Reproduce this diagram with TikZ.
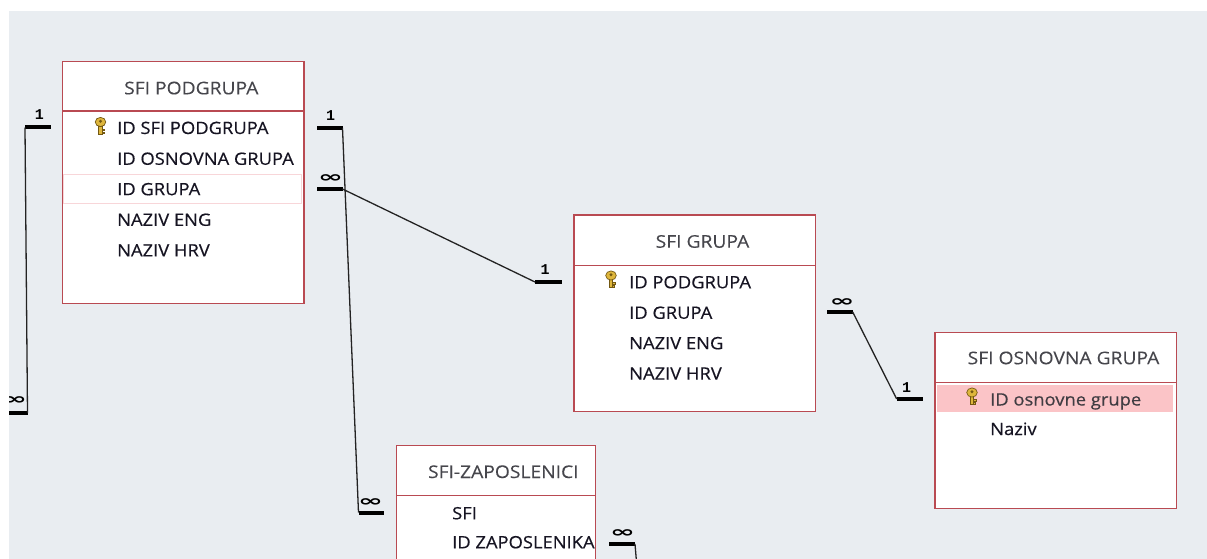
\documentclass[tikz,border=0pt]{standalone}
\usepackage{fontspec}
\setmainfont{Open Sans}
\newfontfamily\fldfont{Open Sans}[FakeStretch=1.08, FakeBold=0.4]
\newfontfamily\ttlfont{Open Sans}[FakeStretch=1.1, FakeBold=0.1]
\newfontfamily\relfont{DejaVu Sans}
\newfontfamily\onefont{Liberation Mono}
\usetikzlibrary{calc}
\definecolor{bggray}{RGB}{233,237,241}
\definecolor{tblborder}{RGB}{185,74,82}
\definecolor{pinkfill}{RGB}{251,196,199}
\definecolor{pinkline}{RGB}{248,214,217}
\definecolor{ttlgray}{RGB}{70,70,76}
\definecolor{fldtext}{RGB}{22,20,34}
\definecolor{pktext}{RGB}{64,60,66}
\definecolor{reldark}{RGB}{35,35,35}
\definecolor{keygold}{RGB}{222,182,60}
\definecolor{keydark}{RGB}{115,88,18}
\tikzset{
  tbl/.style={draw=tblborder, line width=1.3pt, fill=white, anchor=north west, inner sep=0pt, rectangle},
  sepline/.style={draw=tblborder, line width=1.3pt},
  ttl/.style={font=\ttlfont\fontsize{17.5}{20}\selectfont, text=ttlgray, anchor=base, inner sep=0pt},
  fld/.style={font=\fldfont\fontsize{17}{20}\selectfont, text=fldtext, anchor=base west, inner sep=0pt},
  relbar/.style={line width=4pt, black},
  relline/.style={line width=1.3pt, reldark},
  onelbl/.style={font=\onefont\bfseries\fontsize{15}{15}\selectfont, anchor=base, inner sep=0pt},
  manylbl/.style={font=\relfont\bfseries\fontsize{13}{13}\selectfont, anchor=south, inner sep=0pt},
  keyicon/.pic={
    \filldraw[fill=keygold, draw=keydark, line width=0.7pt] (4,9) rectangle (7.5,17);
    \filldraw[fill=keygold, draw=keydark, line width=0.7pt] (7.5,12) rectangle (10,13.6);
    \filldraw[fill=keygold, draw=keydark, line width=0.7pt] (7.5,15) rectangle (9.6,16.6);
    \filldraw[fill=keygold, draw=keydark, line width=0.7pt] (6,5) ellipse [x radius=5.3, y radius=4.6];
    \fill[keydark] (6,4.2) circle (1.6);
  }
}
\newcommand{\manysym}{\scalebox{2.3}[1.2]{∞}}
\begin{document}
\begin{tikzpicture}[x=1pt,y=-1pt]
\useasboundingbox (0,0) rectangle (1207,559);
\clip (0,0) rectangle (1207,559);
\fill[bggray] (0,0) rectangle (1207,559);

% ---------- connectors ----------
% left relationship
\coordinate (a1L) at (25,127.5);  \coordinate (a1R) at (50.5,127.5);
\coordinate (a2L) at (2,413);     \coordinate (a2R) at (27.5,413);
\draw[relbar] (a1L) -- (a1R);
\draw[relbar] (a2L) -- (a2R);
\draw[relline] (a1L) -- (a2R);
\node[onelbl] (a1lbl) at (39.5,120) {1};
\node[manylbl] (a2lbl) at (14.5,404.5) {\manysym};

% podgrupa 1 -> zaposlenici many
\coordinate (b1L) at (317,128);   \coordinate (b1R) at (342.5,128);
\coordinate (b2L) at (358.5,512.5); \coordinate (b2R) at (384,512.5);
\draw[relbar] (b1L) -- (b1R);
\draw[relbar] (b2L) -- (b2R);
\draw[relline] (b1R) -- (b2L);
\node[onelbl] (b1lbl) at (330.5,120.5) {1};
\node[manylbl] (b2lbl) at (370.5,506.5) {\manysym};

% podgrupa many -> grupa 1
\coordinate (c1L) at (317,189);   \coordinate (c1R) at (342.5,189);
\coordinate (c2L) at (535,282);   \coordinate (c2R) at (561.5,282);
\draw[relbar] (c1L) -- (c1R);
\draw[relbar] (c2L) -- (c2R);
\draw[relline] (c1R) -- (c2L);
\node[manylbl] (c1lbl) at (330.5,183) {\manysym};
\node[onelbl] (c2lbl) at (545,274.5) {1};

% grupa many -> osnovna 1
\coordinate (d1L) at (827,312);   \coordinate (d1R) at (852.7,312);
\coordinate (d2L) at (896.7,399); \coordinate (d2R) at (923.3,399);
\draw[relbar] (d1L) -- (d1R);
\draw[relbar] (d2L) -- (d2R);
\draw[relline] (d1R) -- (d2L);
\node[manylbl] (d1lbl) at (842,306.5) {\manysym};
\node[onelbl] (d2lbl) at (906.5,392.5) {1};

% zaposlenici many -> off picture
\coordinate (e1L) at (609.3,544); \coordinate (e1R) at (635,544);
\coordinate (e2) at (636.5,562);
\draw[relbar] (e1L) -- (e1R);
\draw[relline] (e1R) -- (e2);
\node[manylbl] (e1lbl) at (622.5,537.5) {\manysym};

% ---------- SFI PODGRUPA ----------
\node[tbl, minimum width=241.3pt, minimum height=241.7pt] (pod) at (62,61) {};
\draw[sepline] ($(pod.north west)+(0,50)$) -- ($(pod.north east)+(0,50)$);
\draw[pinkline, line width=1pt] (63.6,174.6) rectangle (301.6,203.4);
\node[ttl] (podT) at (191.3,94.3) {SFI PODGRUPA};
\pic at (94.5,117) {keyicon};
\node[fld] (pod1) at (117,134) {ID SFI PODGRUPA};
\node[fld] (pod2) at (117,164.8) {ID OSNOVNA GRUPA};
\node[fld] (pod3) at (117,195.2) {ID GRUPA};
\node[fld] (pod4) at (117,225.8) {NAZIV ENG};
\node[fld] (pod5) at (117,256.4) {NAZIV HRV};

% ---------- SFI GRUPA ----------
\node[tbl, minimum width=241.7pt, minimum height=196.7pt] (grp) at (573.3,214.3) {};
\draw[sepline] ($(grp.north west)+(0,51)$) -- ($(grp.north east)+(0,51)$);
\node[ttl] (grpT) at (702.5,247.7) {SFI GRUPA};
\pic at (605,270.5) {keyicon};
\node[fld] (grp1) at (629,288.3) {ID PODGRUPA};
\node[fld] (grp2) at (629,318.8) {ID GRUPA};
\node[fld] (grp3) at (629,349.2) {NAZIV ENG};
\node[fld] (grp4) at (629,379.6) {NAZIV HRV};

% ---------- SFI OSNOVNA GRUPA ----------
\node[tbl, minimum width=241.7pt, minimum height=176pt] (osn) at (934.3,331.5) {};
\draw[sepline] ($(osn.north west)+(0,51)$) -- ($(osn.north east)+(0,51)$);
\fill[pinkfill] (936.8,385.2) rectangle (1173.2,411.6);
\node[ttl] (osnT) at (1063.5,364.2) {SFI OSNOVNA GRUPA};
\pic at (966,387.5) {keyicon};
\node[fld, text=pktext] (osn1) at (990,405.5) {ID osnovne grupe};
\node[fld] (osn2) at (990,435) {Naziv};

% ---------- SFI-ZAPOSLENICI ----------
\node[tbl, minimum width=199pt, minimum height=150pt] (zap) at (396,445) {};
\draw[sepline] ($(zap.north west)+(0,50.7)$) -- ($(zap.north east)+(0,50.7)$);
\node[ttl] (zapT) at (503.3,478) {SFI-ZAPOSLENICI};
\node[fld] (zap1) at (452,519.3) {SFI};
\node[fld] (zap2) at (452,548.3) {ID ZAPOSLENIKA};

% ---------- white margin of the canvas ----------
\fill[white] (0,0) rectangle (1207,11);
\fill[white] (0,0) rectangle (9,559);
\end{tikzpicture}
\end{document}
